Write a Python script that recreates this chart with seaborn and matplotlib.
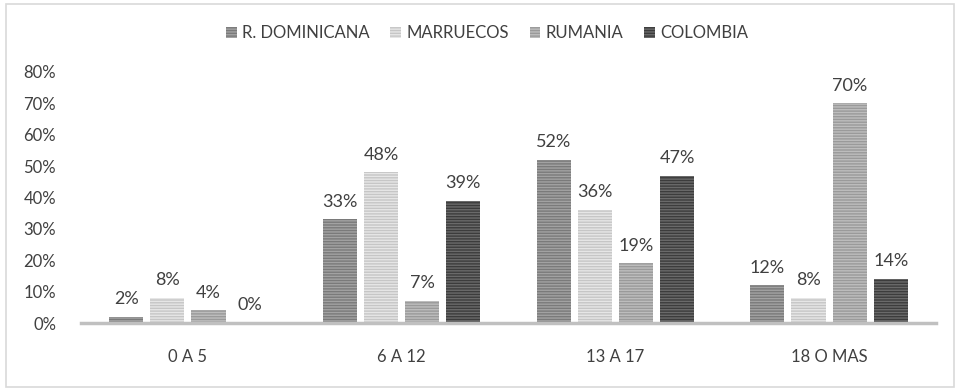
import matplotlib
matplotlib.use("Agg")
import matplotlib.pyplot as plt
import matplotlib.patches as mpatches
import seaborn as sns
import pandas as pd

# Age bands and share of each origin group
categories = ["0 A 5", "6 A 12", "13 A 17", "18 O MAS"]
series_names = ["R. DOMINICANA", "MARRUECOS", "RUMANIA", "COLOMBIA"]
r_dominicana = [2, 33, 52, 12]
marruecos = [8, 48, 36, 8]
rumania = [4, 7, 19, 70]
colombia = [0, 39, 47, 14]
y_ticks = [0, 10, 20, 30, 40, 50, 60, 70, 80]

base_colors = ["#7a7a7a", "#c6c6c6", "#9a9a9a", "#3c3c3c"]
stripe_colors = ["#a2a2a2", "#e6e6e6", "#bdbdbd", "#6a6a6a"]

rows = []
for name, vals in zip(series_names, [r_dominicana, marruecos, rumania, colombia]):
    for cat, v in zip(categories, vals):
        rows.append({"grupo": cat, "origen": name, "valor": v})
df = pd.DataFrame(rows)

sns.set_theme(style="white")
plt.rcParams["font.family"] = ["Lato", "DejaVu Sans"]
plt.rcParams["hatch.linewidth"] = 1.0
text_color = "#404040"

fig = plt.figure(figsize=(9.57, 3.88), dpi=100)
ax = fig.add_axes([81 / 957, 65 / 388, 855 / 957, 251 / 388])

sns.barplot(data=df, x="grupo", y="valor", hue="origen", order=categories,
            hue_order=series_names, palette=base_colors, width=0.77, gap=0.17,
            ax=ax, legend=False)

for cont, ec in zip(ax.containers, stripe_colors):
    for bar in cont:
        bar.set_hatch("------")
        bar.set_edgecolor(ec)
        bar.set_linewidth(0)
    labels = [f"{int(round(b.get_height()))}%" for b in cont]
    ax.bar_label(cont, labels=labels, padding=7, fontsize=13, color=text_color)

ax.set_xlim(-0.5, 3.5)
ax.set_ylim(0, 80)
ax.set_yticks(y_ticks)
ax.set_yticklabels([f"{t}%" for t in y_ticks], fontsize=12, color=text_color)
ax.tick_params(axis="y", length=0, pad=18)
ax.tick_params(axis="x", length=0, pad=19, labelsize=12, labelcolor=text_color)
ax.set_xlabel("")
ax.set_ylabel("")
for side in ["top", "right", "left"]:
    ax.spines[side].set_visible(False)
ax.spines["bottom"].set_color("#c0c0c0")
ax.spines["bottom"].set_linewidth(2.5)

handles = [mpatches.Patch(facecolor=c, edgecolor=s, hatch="------", linewidth=0, label=n)
           for n, c, s in zip(series_names, base_colors, stripe_colors)]
fig.legend(handles=handles, loc="center", bbox_to_anchor=(487 / 957, 1 - 33 / 388),
           ncol=4, frameon=False, fontsize=12, handlelength=0.65, handleheight=0.65,
           handletextpad=0.3, columnspacing=1.25, labelcolor=text_color)

# outer chart border
fig.patches.append(mpatches.Rectangle((6 / 957, 1 / 388), 948 / 957, 383 / 388,
                                      transform=fig.transFigure, fill=False,
                                      edgecolor="#d9d9d9", linewidth=1.2))

fig.savefig("out.png", dpi=100)
